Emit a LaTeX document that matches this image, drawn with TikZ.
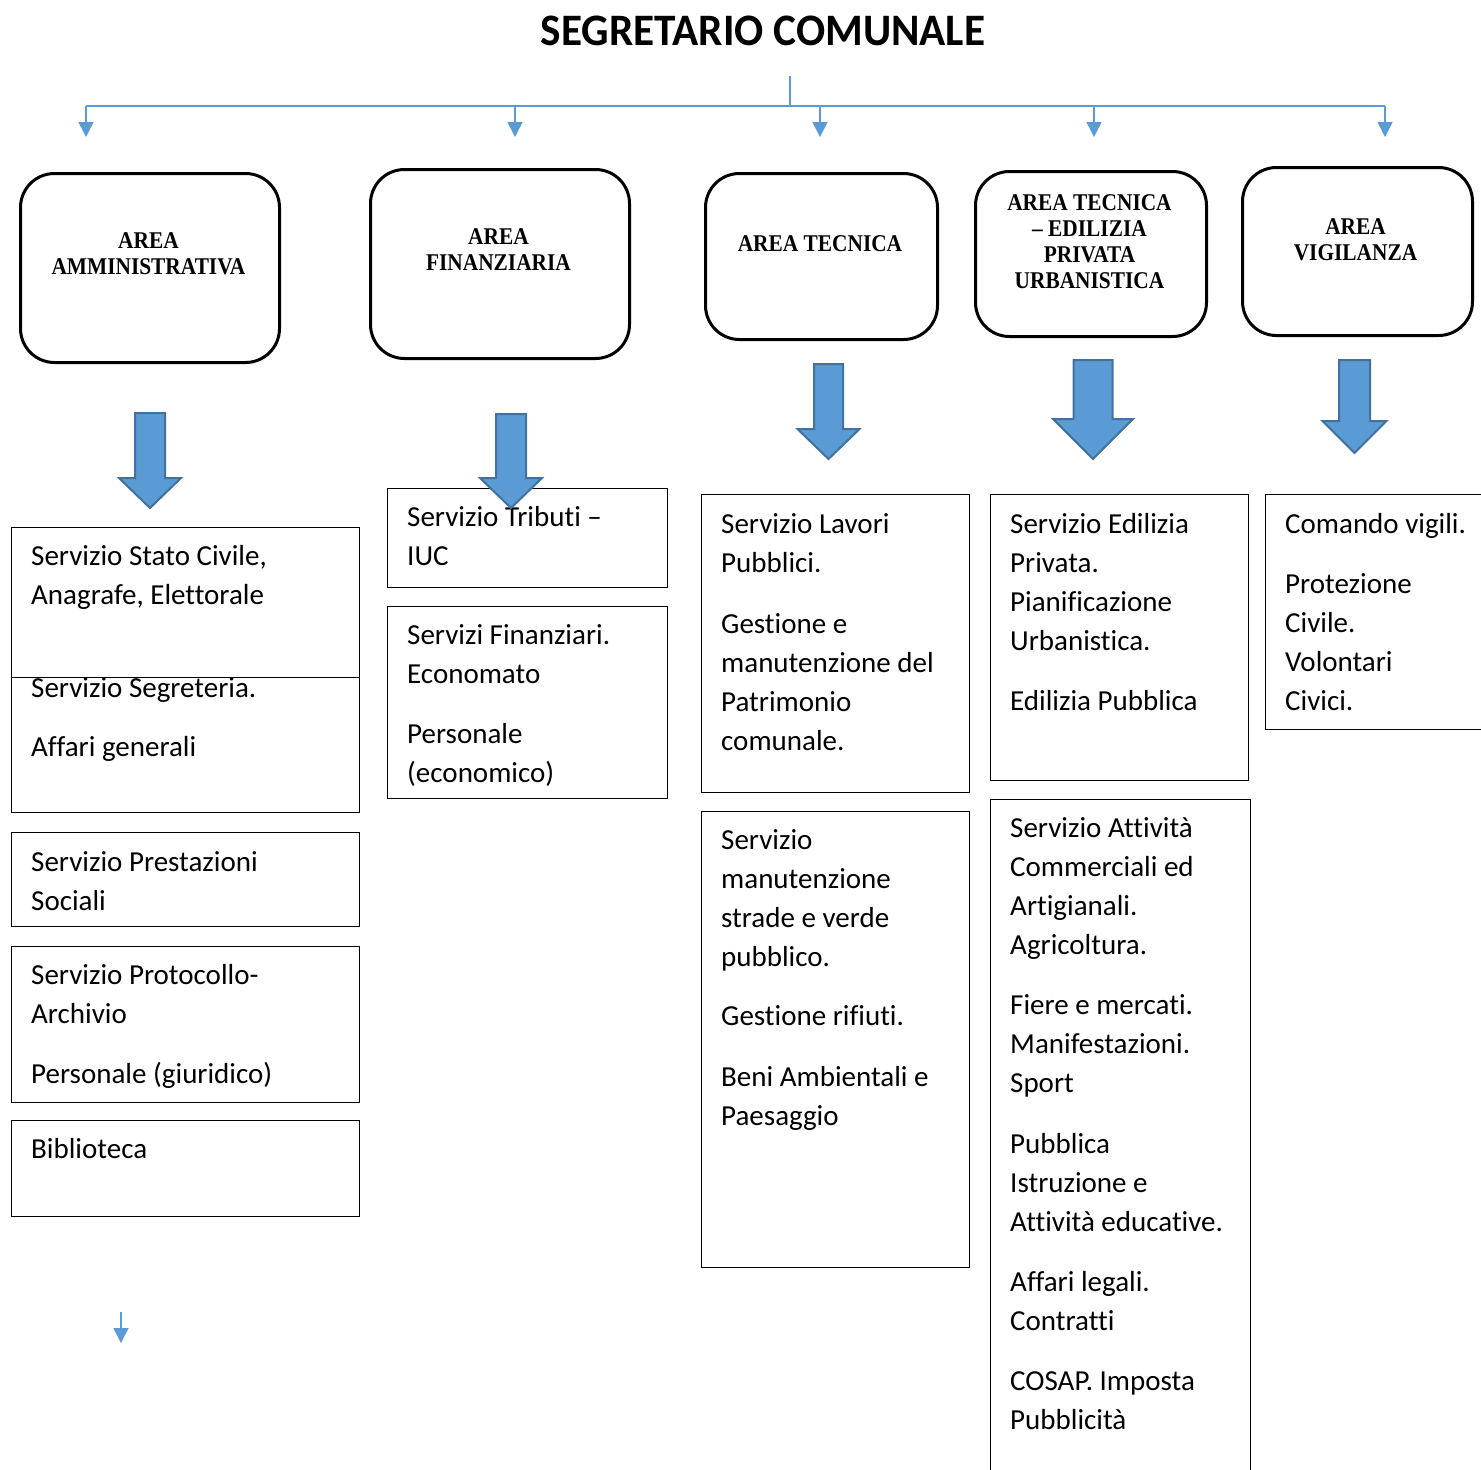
\documentclass[tikz,border=0pt]{standalone}
\usepackage{fontspec}
\usetikzlibrary{arrows.meta}
\newfontfamily\carlito[Ligatures=NoCommon]{Carlito}
\newfontfamily\titlefnt[FakeStretch=0.96]{Carlito}
\newfontfamily\areafnt[FakeStretch=0.89]{Liberation Serif}
\definecolor{connblue}{HTML}{5B9BD5}
\definecolor{arrowfill}{HTML}{5B9BD5}
\definecolor{arrowedge}{HTML}{41719C}
\newcommand\myBlockArrow[6]{%
  \filldraw[barrow] ({#1-#3},#2) -- ({#1+#3},#2) -- ({#1+#3},#4) -- ({#1+#5},#4) -- (#1,#6) -- ({#1-#5},#4) -- ({#1-#3},#4) -- cycle;}
\begin{document}
\begin{tikzpicture}[x=1pt,y=-1pt,
  rbox/.style={draw=black, line width=3pt, rounded corners=34pt, fill=white, anchor=north west, inner sep=0pt},
  sbox/.style={draw=black, line width=1.3pt, fill=white, anchor=north west, inner sep=0pt},
  svctxt/.style={anchor=north west, inner sep=0pt, align=left, font=\carlito\fontsize{29}{39}\selectfont},
  areatxt/.style={anchor=north, inner sep=0pt, align=center, font=\areafnt\bfseries\fontsize{24}{26}\selectfont},
  conn/.style={draw=connblue, line width=1.5pt},
  tipconn/.style={conn, -{Triangle[length=15pt,width=15pt]}},
  barrow/.style={fill=arrowfill, draw=arrowedge, line width=2pt, line join=miter}]
\useasboundingbox (0,0) rectangle (1481,1470);

% title
\node[anchor=base, inner sep=0pt, font=\titlefnt\bfseries\fontsize{45}{50}\selectfont] (title) at (763,45) {SEGRETARIO COMUNALE};

% top connectors
\coordinate (root) at (790,76);
\coordinate (bus) at (790,106);
\coordinate (d1) at (86,106);
\coordinate (d2) at (515,106);
\coordinate (d3) at (820,106);
\coordinate (d4) at (1094,106);
\coordinate (d5) at (1385,106);
\coordinate (e1) at (86,137);
\coordinate (e2) at (515,137);
\coordinate (e3) at (820,137);
\coordinate (e4) at (1094,137);
\coordinate (e5) at (1385,137);
\draw[conn] (root) -- (bus);
\draw[conn] (d1) -- (d5);
\draw[tipconn] (d1) -- (e1);
\draw[tipconn] (d2) -- (e2);
\draw[tipconn] (d3) -- (e3);
\draw[tipconn] (d4) -- (e4);
\draw[tipconn] (d5) -- (e5);

% area boxes
\node[rbox, minimum width=259pt, minimum height=189pt] (a1) at (19,172) {};
\node[rbox, minimum width=259pt, minimum height=189pt] (a2) at (369,168) {};
\node[rbox, minimum width=232pt, minimum height=166pt] (a3) at (704,172) {};
\node[rbox, minimum width=231pt, minimum height=165pt] (a4) at (974,170) {};
\node[rbox, minimum width=230pt, minimum height=168pt] (a5) at (1241,166) {};
\node[areatxt] (la1) at (148.5,229.8) {\strut AREA\\AMMINISTRATIVA};
\node[areatxt] (la2) at (498.5,226) {\strut AREA\\FINANZIARIA};
\node[areatxt] (la3) at (820,233) {\strut AREA TECNICA};
\node[areatxt] (la4) at (1089.5,191.8) {\strut AREA TECNICA\\– EDILIZIA\\PRIVATA\\URBANISTICA};
\node[areatxt] (la5) at (1355.5,216) {\strut AREA\\VIGILANZA};

% column 1
\node[sbox, minimum width=348pt, minimum height=135pt] (s2) at (11,677) {};
\node[svctxt] (t2) at (31,669.5) {\strut Servizio Segreteria.\\[20pt]Affari generali};
\node[sbox, minimum width=348pt, minimum height=150pt] (s1) at (11,527) {};
\node[svctxt] (t1) at (31,538) {\strut Servizio Stato Civile,\\Anagrafe, Elettorale};
\node[sbox, minimum width=348pt, minimum height=94pt] (s3) at (11,832) {};
\node[svctxt] (t3) at (31,844) {\strut Servizio Prestazioni\\Sociali};
\node[sbox, minimum width=348pt, minimum height=156pt] (s4) at (11,946) {};
\node[svctxt] (t4) at (31,957) {\strut Servizio Protocollo-\\Archivio\\[21pt]Personale (giuridico)};
\node[sbox, minimum width=348pt, minimum height=96pt] (s5) at (11,1120) {};
\node[svctxt] (t5) at (31,1131) {\strut Biblioteca};

% column 2
\node[sbox, minimum width=280pt, minimum height=99pt] (s6) at (387,488) {};
\node[svctxt] (t6) at (407,499) {\strut Servizio Tributi –\\IUC};
\node[sbox, minimum width=280pt, minimum height=192pt] (s7) at (387,606) {};
\node[svctxt] (t7) at (407,617) {\strut Servizi Finanziari.\\Economato\\[21pt]Personale\\(economico)};

% column 3
\node[sbox, minimum width=268pt, minimum height=298pt] (s8) at (701,494) {};
\node[svctxt] (t8) at (721,506) {\strut Servizio Lavori\\Pubblici.\\[22pt]Gestione e\\manutenzione del\\Patrimonio\\comunale.};
\node[sbox, minimum width=268pt, minimum height=456pt] (s9) at (701,811) {};
\node[svctxt] (t9) at (721,822) {\strut Servizio\\manutenzione\\strade e verde\\pubblico.\\[20pt]Gestione rifiuti.\\[22pt]Beni Ambientali e\\Paesaggio};

% column 4
\node[sbox, minimum width=258pt, minimum height=286pt] (s10) at (990,494) {};
\node[svctxt] (t10) at (1010,506) {\strut Servizio Edilizia\\Privata.\\Pianificazione\\Urbanistica.\\[21pt]Edilizia Pubblica};
\node[sbox, minimum width=260pt, minimum height=700pt] (s11) at (990,799) {};
\node[svctxt] (t11) at (1010,810) {\strut Servizio Attività\\Commerciali ed\\Artigianali.\\Agricoltura.\\[21pt]Fiere e mercati.\\Manifestazioni.\\Sport\\[22pt]Pubblica\\Istruzione e\\Attività educative.\\[21pt]Affari legali.\\Contratti\\[21pt]COSAP. Imposta\\Pubblicità};

% column 5
\node[sbox, minimum width=240pt, minimum height=235pt] (s12) at (1265,494) {};
\node[svctxt] (t12) at (1285,506) {\strut Comando vigili.\\[21pt]Protezione\\Civile.\\Volontari\\Civici.};

% block arrows
\myBlockArrow{150}{413}{15}{478}{31}{508}
\myBlockArrow{511}{414}{15}{478}{31}{508}
\myBlockArrow{828.5}{364}{14.5}{429}{31}{459}
\myBlockArrow{1093}{360}{19.5}{419}{40}{459}
\myBlockArrow{1354.5}{360}{15.5}{421}{32}{453}

% small arrow bottom left
\coordinate (f1) at (121,1312);
\coordinate (f2) at (121,1343);
\draw[tipconn] (f1) -- (f2);
\end{tikzpicture}
\end{document}
